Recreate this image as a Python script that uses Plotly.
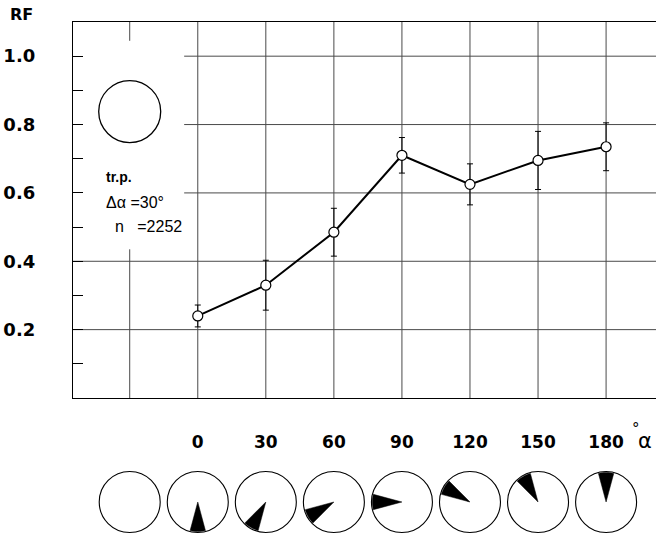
import math
import plotly.graph_objects as go

# Response fraction vs. stimulus orientation
alpha = [0, 30, 60, 90, 120, 150, 180]
rf = [0.24, 0.33, 0.485, 0.71, 0.625, 0.695, 0.735]
rf_err = [0.032, 0.073, 0.07, 0.052, 0.06, 0.085, 0.07]

x_tick_vals = [-30, 0, 30, 60, 90, 120, 150, 180]
x_tick_text = ["", "0", "30", "60", "90", "120", "150", "180"]
y_tick_vals = [0.1, 0.2, 0.3, 0.4, 0.5, 0.6, 0.7, 0.8, 0.9, 1.0]
y_tick_text = ["", "0.2", "", "0.4", "", "0.6", "", "0.8", "", "1.0"]

# stimulus icons below the axis: None = plain disc, else sector orientation
icon_x = [-30, 0, 30, 60, 90, 120, 150, 180]
icon_angle = [None, 0, 30, 60, 90, 120, 150, 180]

X_RANGE = [-55, 202]
Y_RANGE = [0, 1.1]
GRID = "#4a4a4a"

fig = go.Figure()

fig.add_trace(go.Scatter(
    x=alpha, y=rf,
    mode="lines+markers",
    line=dict(color="black", width=2),
    marker=dict(symbol="circle", size=10, color="white",
                line=dict(color="black", width=1.2)),
    error_y=dict(type="data", array=rf_err, visible=True,
                 color="black", thickness=1, width=3),
    showlegend=False, cliponaxis=False,
))

# hidden helper axes holding the icon row
fig.add_trace(go.Scatter(x=[None], y=[None], xaxis="x2", yaxis="y2",
                         showlegend=False, hoverinfo="skip"))

shapes = []
# vertical grid lines (the left one is interrupted by the inset)
for xv in x_tick_vals:
    if xv == -30:
        segs = [(0, 0.435), (1.045, 1.1)]
    else:
        segs = [(0, 1.1)]
    for y0, y1 in segs:
        shapes.append(dict(type="line", xref="x", yref="y", x0=xv, x1=xv,
                           y0=y0, y1=y1, layer="below",
                           line=dict(color=GRID, width=1)))
# horizontal grid lines
for yv in [0.2, 0.4, 0.6, 0.8, 1.0]:
    x0 = X_RANGE[0] if yv < 0.5 else -6
    shapes.append(dict(type="line", xref="x", yref="y", x0=x0, x1=X_RANGE[1],
                       y0=yv, y1=yv, layer="below",
                       line=dict(color=GRID, width=1)))

# inset disc (transparent stimulus)
shapes.append(dict(type="circle", xref="x", yref="y",
                   xsizemode="pixel", ysizemode="pixel",
                   xanchor=-30, yanchor=0.838,
                   x0=-31, x1=31, y0=-31, y1=31,
                   line=dict(color="black", width=1.3)))

R = 30.5
HALF = 15
for xv, ang in zip(icon_x, icon_angle):
    shapes.append(dict(type="circle", xref="x2", yref="y2",
                       xsizemode="pixel", ysizemode="pixel",
                       xanchor=xv, yanchor=0.25,
                       x0=-R, x1=R, y0=-R, y1=R,
                       line=dict(color="black", width=1.1)))
    if ang is None:
        continue
    theta = 270 - ang
    pts = ["M 0,0"]
    for k in range(9):
        t = math.radians(theta - HALF + k * (2 * HALF) / 8)
        pts.append(f"L {R * 0.97 * math.cos(t):.2f},{R * 0.97 * math.sin(t):.2f}")
    pts.append("Z")
    shapes.append(dict(type="path", xref="x2", yref="y2",
                       xsizemode="pixel", ysizemode="pixel",
                       xanchor=xv, yanchor=0.25,
                       path=" ".join(pts),
                       fillcolor="black", line=dict(color="black", width=0.5)))

annotations = [
    dict(text="<b>RF</b>", x=-0.0875, y=1.0137, xref="paper", yref="paper",
         xanchor="center", yanchor="middle",
         showarrow=False, font=dict(family="DejaVu Sans", size=16, color="black")),
    dict(text="<b>tr.p.</b>", x=-41.5, y=0.647, xref="x", yref="y",
         xanchor="left", yanchor="middle",
         showarrow=False, font=dict(family="Liberation Sans", size=14, color="black")),
    dict(text="Δα =30°", x=-41.5, y=0.573, xref="x", yref="y",
         xanchor="left", yanchor="middle",
         showarrow=False, font=dict(family="Liberation Sans", size=16, color="black")),
    dict(text="n   =2252", x=-37.5, y=0.503, xref="x", yref="y",
         xanchor="left", yanchor="middle",
         showarrow=False, font=dict(family="Liberation Sans", size=16, color="black")),
    dict(text="α", x=0.9815, y=0.1816, xref="paper", yref="paper",
         xanchor="center", yanchor="middle",
         showarrow=False, font=dict(family="DejaVu Sans", size=21, color="black")),
    dict(text="°", x=0.9665, y=0.205, xref="paper", yref="paper",
         xanchor="center", yanchor="middle",
         showarrow=False, font=dict(family="DejaVu Sans", size=15, color="black")),
]

fig.update_layout(
    width=656, height=534,
    margin=dict(l=73, r=0, t=22, b=0),
    paper_bgcolor="white", plot_bgcolor="white",
    shapes=shapes, annotations=annotations,
    xaxis=dict(range=X_RANGE, showgrid=False, zeroline=False,
               showline=True, mirror=True, linecolor="black", linewidth=1.3,
               tickvals=x_tick_vals, ticktext=x_tick_text, ticks="",
               ticklabelstandoff=28,
               tickfont=dict(family="DejaVu Sans", size=17, color="black",
                             weight="bold"),
               anchor="y"),
    yaxis=dict(range=Y_RANGE, domain=[0.265625, 1], showgrid=False, zeroline=False,
               showline=True, linecolor="black", linewidth=1.3,
               tickvals=y_tick_vals, ticktext=y_tick_text,
               ticks="inside", ticklen=10, tickcolor="black", tickwidth=1,
               ticklabelstandoff=33,
               tickfont=dict(family="DejaVu Sans", size=18, color="black",
                             weight="bold"),
               anchor="x"),
    xaxis2=dict(matches="x", anchor="y2", visible=False),
    yaxis2=dict(range=[0, 1], domain=[0, 0.25], visible=False, anchor="x2"),
)

fig.write_html("out.html")
